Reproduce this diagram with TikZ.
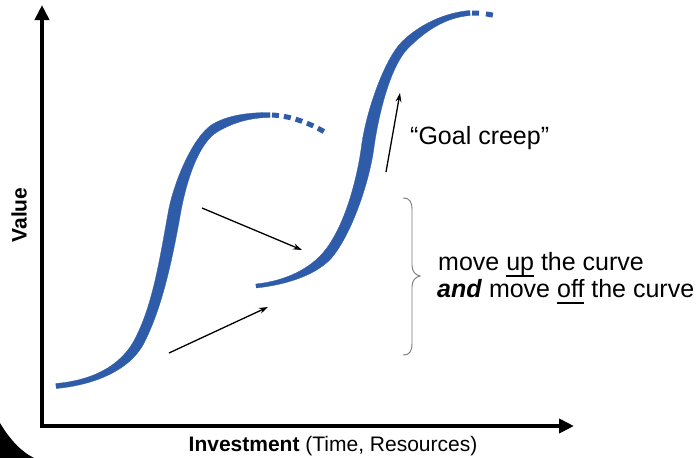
\documentclass[tikz,border=0pt]{standalone}
\usepackage{fontspec}
\setmainfont{Liberation Sans}
\usetikzlibrary{arrows.meta}
\definecolor{curveblue}{RGB}{46,92,168}
\definecolor{bracegray}{RGB}{120,120,120}
\newcommand\myul[1]{\setbox0\hbox{#1}\rlap{\rule[-6.5pt]{\wd0}{1.6pt}}\box0\relax}
\tikzset{
  axisline/.style={line width=4pt, -{Triangle[length=15pt,width=14pt]}},
  scurve/.style={fill=curveblue, draw=curveblue, line width=0.3pt},
  dashcurve/.style={curveblue, line width=5pt, dash pattern=on 7pt off 5pt},
  thinarrow/.style={line width=1.3pt, -{Stealth[length=9pt,width=6pt]}},
  bigtext/.style={font=\fontsize{25}{27}\selectfont, inner sep=0pt},
  axislabel/.style={font=\fontsize{21}{23}\selectfont, inner sep=0pt},
}
\begin{document}
\begin{tikzpicture}[x=1pt,y=-1pt]
\useasboundingbox (0,0) rectangle (697,458);
% corner shape
\fill[black] (0,423) .. controls (9,438) and (20,451) .. (34,458) -- (0,458) -- cycle;
% axes
\coordinate (origin) at (42,426);
\coordinate (ytip) at (42,5);
\coordinate (xtip) at (574,426);
\draw[line width=4pt] (42,428) -- (42,20);
\draw[axisline] (origin) -- (ytip);
\draw[axisline] (40,426) -- (xtip);
\node[axislabel, rotate=90] (vlabel) at (19,215) {\textbf{Value}};
\node[axislabel, anchor=base] (xlabel) at (333,451) {\textbf{Investment} (Time, Resources)};
% curve 1 (tapered band)
\path[scurve] (56.22,388.49) .. controls (90.22,385.49) and (129.47,372.24) .. (144.47,342.24)
  .. controls (161.47,308.24) and (171.11,266.05) .. (180.11,216.05)
  .. controls (185.11,186.05) and (197.30,143.87) .. (217.30,131.87)
  .. controls (234.30,121.87) and (252,117.5) .. (270,117.5)
  -- (270,112.5)
  .. controls (252,112.5) and (229.70,114.13) .. (212.70,124.13)
  .. controls (192.70,136.13) and (172.89,183.95) .. (167.89,213.95)
  .. controls (158.89,263.95) and (152.53,303.76) .. (135.53,337.76)
  .. controls (120.53,367.76) and (89.78,380.51) .. (55.78,383.51)
  -- cycle;
\draw[dashcurve] (272,115) .. controls (292,116) and (312,124) .. (328,134);
% curve 2 (tapered band)
\path[scurve] (256.21,287.99) .. controls (285.21,284.99) and (319,275) .. (334,255)
  .. controls (353,230) and (369.74,180.85) .. (374.24,145.85)
  .. controls (379.24,110.85) and (391.18,65.18) .. (408.18,48.18)
  .. controls (425.18,31.18) and (445.2,17.49) .. (470.2,15.49)
  -- (469.8,10.51)
  .. controls (444.8,12.51) and (418.82,24.82) .. (401.82,41.82)
  .. controls (384.82,58.82) and (366.76,109.15) .. (361.76,144.15)
  .. controls (357.26,179.15) and (345,224) .. (326,249)
  .. controls (311,269) and (284.79,281.01) .. (255.79,284.01)
  -- cycle;
\draw[dashcurve, dash pattern=on 7pt off 7pt] (472,13) .. controls (482,12.8) and (490,14.5) .. (497,16);
% arrows
\coordinate (a1s) at (202,208);
\coordinate (a1e) at (302,250);
\coordinate (a2s) at (169,353);
\coordinate (a2e) at (268,307);
\coordinate (a3s) at (386,172);
\coordinate (a3e) at (400,93);
\draw[thinarrow] (a1s) -- (a1e);
\draw[thinarrow] (a2s) -- (a2e);
\draw[thinarrow] (a3s) -- (a3e);
% goal creep
\node[bigtext, anchor=base west] (goal) at (410,144) {“Goal creep”};
% brace
\draw[bracegray, line width=0.9pt] (403,198) .. controls (410,198) and (412,202) .. (412,210) -- (412,265) .. controls (412,271) and (415,275) .. (420,276) .. controls (415,277) and (412,281) .. (412,287) -- (412,343) .. controls (412,351) and (410,355) .. (403,355);
\node[bigtext, anchor=base west] (line1) at (438,270) {move \myul{up} the curve};
\node[bigtext, anchor=base west] (line2) at (437,297) {\textbf{\textit{and}} move \myul{off} the curve};
\end{tikzpicture}
\end{document}
